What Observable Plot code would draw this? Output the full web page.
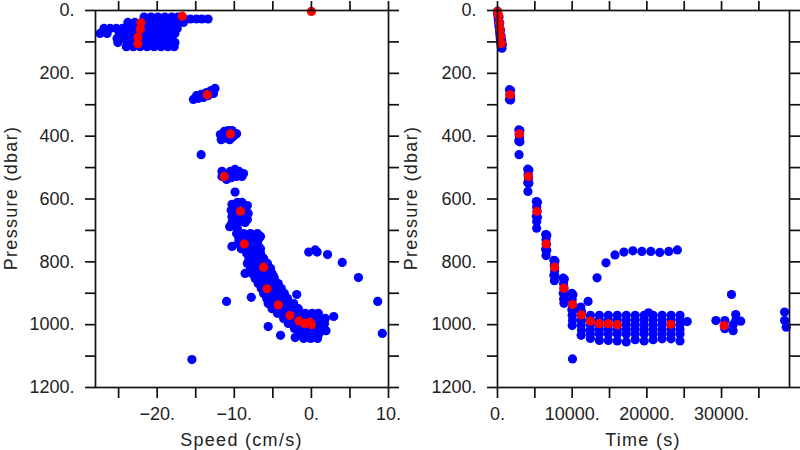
<!DOCTYPE html>
<html><head><meta charset="utf-8">
<script src="https://cdn.jsdelivr.net/npm/d3@7"></script>
<script src="https://cdn.jsdelivr.net/npm/@observablehq/plot@0.6"></script>
<style>
body{margin:0;background:#fff;}
#wrap{position:relative;width:800px;height:450px;overflow:hidden;font-family:"Liberation Sans",Arial,sans-serif;color:#222;background:#fff;}
.panel{position:absolute;top:0;}
.xt{position:absolute;top:431px;font-size:18px;line-height:18px;letter-spacing:1.3px;text-align:center;width:200px;white-space:nowrap;}
.yt{position:absolute;top:188.5px;font-size:18px;line-height:18px;letter-spacing:1.3px;text-align:center;width:240px;height:18px;transform:rotate(-90deg);white-space:nowrap;}
</style></head><body><div id="wrap"></div>
<script>
// ---- tick values / labels ----
const speedTicks = [-25, -20, -15, -10, -5, 0, 5, 10];
const speedLabels = [-20, -10, 0, 10];
const timeTicks = [0, 5000, 10000, 15000, 20000, 25000, 30000, 35000];
const timeLabels = [0, 10000, 20000, 30000];
const pressureTicks = [0, 100, 200, 300, 400, 500, 600, 700, 800, 900, 1000, 1100, 1200];
const pressureLabels = [0, 200, 400, 600, 800, 1000, 1200];

// ---- left panel: [speed cm/s, pressure dbar] ----
const speedBlue = [
  [-21.7,21],[-20.8,21],[-19.9,21],[-19.0,21],[-18.1,21],[-17.3,21],
  [-16.5,27],[-15.7,27],[-14.9,27],[-14.2,27],[-13.4,27],
  [-23.8,38],[-22.9,38],[-22.0,38],[-21.0,38],[-20.1,38],[-19.2,38],[-18.3,38],[-17.4,38],[-16.6,38],
  [-26.9,57],[-26.1,57],[-25.3,57],[-24.5,57],[-23.6,57],[-22.7,57],[-21.8,57],[-20.9,57],[-20.0,57],[-19.1,57],[-18.2,57],[-17.4,57],
  [-27.4,73],[-26.5,73],[-24.9,73],[-24.0,73],[-23.1,73],[-22.2,73],[-21.3,73],[-20.4,73],[-19.5,73],[-18.6,73],[-17.7,73],
  [-25.2,89],[-24.4,89],[-23.5,89],[-22.6,89],[-21.7,89],[-20.8,89],[-19.9,89],[-19.0,89],[-18.1,89],
  [-25.1,102],[-23.9,102],[-23.0,102],[-22.1,102],[-21.2,102],[-20.3,102],[-19.4,102],[-18.4,102],[-17.7,102],
  [-24.0,115],[-23.1,115],[-22.2,115],[-21.3,115],[-20.4,115],[-19.5,115],[-18.6,115],[-17.8,115],
  [-14.9,271],[-14.3,267],[-13.6,261],[-13.0,255],[-12.5,248],[-15.3,283],[-14.7,280],[-14.0,277],[-13.4,271],[-12.7,264],
  [-11.8,395],[-11.3,385],[-11.3,407],[-10.8,382],[-10.8,401],[-10.3,382],[-10.3,404],[-9.7,392],[-11.7,411],[-10.6,411],[-10.0,398],[-11.0,395],
  [-14.3,459],
  [-11.6,528],[-11.0,538],[-10.4,532],[-10.5,512],[-9.9,506],[-9.4,512],[-8.8,519],[-9.0,528],[-9.7,528],[-11.6,512],
  [-9.9,578],
  [-10.3,617],[-9.6,611],[-9.0,611],[-8.3,621],[-10.4,636],[-9.7,633],[-8.6,636],[-8.2,646],[-10.3,656],[-9.6,659],
  [-8.8,656],[-8.3,665],[-10.3,675],[-9.5,675],[-8.6,675],[-10.6,688],[-9.6,694],[-9.2,640],[-10.1,668],
  [-9.7,710],[-8.8,710],[-7.9,710],[-7.0,710],
  [-9.4,726],[-8.4,726],[-7.5,726],[-6.8,726],
  [-9.5,742],[-8.6,742],[-7.7,742],[-7.0,742],
  [-9.1,758],[-8.2,758],[-7.3,758],[-6.6,758],
  [-8.4,773],[-7.5,773],[-6.6,773],
  [-8.1,789],[-7.1,789],[-6.2,789],
  [-8.3,805],[-7.4,805],[-6.5,805],[-5.7,805],
  [-7.9,821],[-7.0,821],[-6.1,821],[-5.3,821],
  [-8.6,837],[-7.7,837],[-6.8,837],[-5.8,837],[-5.1,837],
  [-7.3,853],[-6.4,853],[-5.6,853],[-4.8,853],
  [-6.9,869],[-6.1,869],[-5.2,869],[-4.3,869],
  [-6.5,885],[-5.7,885],[-4.8,885],[-3.9,885],
  [-6.2,901],[-5.3,901],[-4.4,901],[-3.5,901],
  [-5.8,917],[-4.9,917],[-4.0,917],[-3.1,917],
  [-5.6,933],[-4.7,933],[-3.8,933],[-2.9,933],[-2.3,933],
  [-5.1,949],[-4.2,949],[-3.2,949],[-2.3,949],[-1.7,949],
  [-4.4,964],[-3.5,964],[-2.6,964],[-1.7,964],[-0.8,964],[0.1,964],[0.9,964],
  [-3.6,980],[-2.7,980],[-1.8,980],[-0.9,980],[0.0,980],[0.9,980],[1.8,980],
  [-3.0,996],[-2.1,996],[-1.2,996],[-0.3,996],[0.6,996],[1.7,996],
  [-2.2,1012],[-1.3,1012],[-0.4,1012],[0.5,1012],[1.3,1012],
  [-1.6,1028],[-0.6,1028],[0.3,1028],[1.0,1028],
  [-1.0,1044],[-0.1,1044],[0.8,1044],
  [-10.3,751],[-6.6,719],[-6.9,748],[-4.9,847],[-7.8,913],[-11.0,926],[-1.9,904],
  [2.9,974],[1.9,1019],[-4.0,1034],[-5.6,1006],[-2.1,1041],[-15.5,1111],
  [-0.35,769],[0.5,762],[0.75,769],[2.1,777],[4.0,802],[6.1,850],[8.6,926],[9.2,1028]
];
const speedRed = [
  [-16.75,18],[-22.1,39],[-22.2,60],[-22.5,85],[-22.5,106],[0,3],
  [-13.5,268],[-10.5,393],[-11.3,528],[-9.2,639],[-8.7,743],[-6.2,817],[-5.75,886],
  [-4.3,937],[-2.8,971],[-1.6,988],[-0.9,996],[-0.2,992],[0,1000]
];

// ---- right panel: [time s, pressure dbar] ----
const timeBlue = [
  [0,2],[40,12],[80,22],[130,32],[170,42],[210,52],[260,62],[300,72],[340,82],[380,92],[420,100],
  [470,110],[520,118],[600,120],[650,108],[560,95],[480,80],[400,62],[300,40],[200,20],
  [1600,252],[1750,255],[1650,268],[1750,272],[1600,283],[1750,285],
  [2850,380],[3000,382],[2900,395],[2950,405],[2850,415],[3000,418],[2890,459],
  [4050,505],[4200,508],[4100,522],[4150,535],[4050,548],[4200,550],[4080,576],
  [5200,608],[5350,610],[5250,625],[5300,640],[5200,655],[5350,658],[5250,672],[5240,693],
  [6450,713],[6600,715],[6500,730],[6550,745],[6450,760],[6600,763],[6500,780],
  [7550,795],[7700,797],[7600,812],[7650,828],[7550,843],[7700,845],[7620,860],
  [8800,852],[8950,855],[8850,870],[8900,885],[8800,900],[8950,903],[8850,918],[8900,932],
  [9950,900],[10100,905],[10000,920],[10050,937],[9950,952],[10100,955],[10000,970],[10050,986],[10000,1003],[10040,1109],
  [11150,944],[11250,958],[11200,972],[11250,987],[11200,1002],[11250,1018],[11200,1034],
  [12130,926],
  [13330,851],[14530,803],[15730,778],[16930,769],[18130,765],[19330,767],[20530,767],[21730,770],[22930,767],[24080,762],
  [12440,970],[12440,985],[12440,1000],[12440,1015],[12440,1030],[12440,1044],
  [13640,970],[13640,985],[13640,1000],[13640,1015],[13640,1030],[13640,1050],
  [14840,970],[14840,985],[14840,1000],[14840,1015],[14840,1030],[14840,1050],
  [16040,970],[16040,985],[16040,1000],[16040,1015],[16040,1030],[16040,1052],
  [17240,970],[17240,985],[17240,1000],[17240,1015],[17240,1030],[17240,1055],
  [18440,970],[18440,985],[18440,1000],[18440,1015],[18440,1030],[18440,1048],
  [19640,970],[19640,985],[19640,1000],[19640,1015],[19640,1030],[19640,1052],
  [20840,970],[20840,985],[20840,1000],[20840,1015],[20840,1030],[20840,1048],
  [22040,970],[22040,985],[22040,1000],[22040,1015],[22040,1030],[22040,1045],
  [23240,970],[23240,985],[23240,1000],[23240,1015],[23240,1030],[23240,1045],
  [24440,970],[24440,985],[24440,1000],[24440,1015],[24440,1030],[24440,1052],
  [20220,962],[25410,990],
  [29240,987],[30440,987],[30440,1013],[31330,904],[31900,968],[31900,987],[31550,1000],[31550,1019],[32570,989],
  [38440,960],[38440,987],[38660,1008]
];
const timeRed = [
  [0,3],[130,16],[250,38],[350,60],[450,83],[520,105],
  [1680,268],[2930,393],[4130,528],[5290,639],[6510,743],[7640,817],[8890,884],[10040,936],
  [11240,969],[12440,989],[13640,997],[14840,997],[16040,1000],[23200,999],[30350,1003]
];

function fmt(labels) {
  return d => labels.includes(d) ? (d < 0 ? "\u2212" + (-d) : String(d)) + "." : "";
}

function panel({blue, red, xDomain, xTicks, xLabels, marginLeft, marginRight}) {
  const ink = "#111";
  return Plot.plot({
    width: 400, height: 450,
    marginLeft, marginRight, marginTop: 10, marginBottom: 63,
    x: {domain: xDomain},
    y: {domain: [0, 1200], reverse: true},
    style: {fontFamily: "'Liberation Sans', Arial, sans-serif", fontSize: "18px", color: "#222", background: "white", overflow: "visible"},
    marks: [
      Plot.dot(blue, {x: d => d[0], y: d => d[1], r: 4.6, fill: "#0000ff"}),
      Plot.dot(red, {x: d => d[0], y: d => d[1], r: 4.6, fill: "#ff0000"}),
      Plot.frame({stroke: ink, strokeWidth: 1.7}),
      Plot.axisX(xTicks, {anchor: "bottom", tickSize: 11, tickPadding: 9, tickFormat: fmt(xLabels), stroke: ink, strokeWidth: 1.7, label: null}),
      Plot.axisX(xTicks, {anchor: "top", tickSize: 10, tickFormat: () => "", stroke: ink, strokeWidth: 1.7, label: null}),
      Plot.axisY(pressureTicks, {anchor: "left", tickSize: 10, tickPadding: 11, tickFormat: fmt(pressureLabels), stroke: ink, strokeWidth: 1.7, label: null}),
      Plot.axisY(pressureTicks, {anchor: "right", tickSize: 10, tickFormat: () => "", stroke: ink, strokeWidth: 1.7, label: null})
    ]
  });
}

const wrap = document.getElementById("wrap");
const left = panel({blue: speedBlue, red: speedRed, xDomain: [-28, 10], xTicks: speedTicks, xLabels: speedLabels, marginLeft: 95, marginRight: 12});
left.classList.add("panel"); left.style.left = "0px";
const right = panel({blue: timeBlue, red: timeRed, xDomain: [0, 39100], xTicks: timeTicks, xLabels: timeLabels, marginLeft: 97, marginRight: 11});
right.classList.add("panel"); right.style.left = "400px";
wrap.appendChild(left); wrap.appendChild(right);

function addText(cls, txt, leftPx) {
  const d = document.createElement("div");
  d.className = cls; d.textContent = txt; d.style.left = leftPx + "px";
  wrap.appendChild(d);
}
addText("xt", "Speed (cm/s)", 141.5);
addText("xt", "Time (s)", 543);
addText("yt", "Pressure (dbar)", 10.5 - 120);
addText("yt", "Pressure (dbar)", 410.5 - 120);
</script></body></html>
